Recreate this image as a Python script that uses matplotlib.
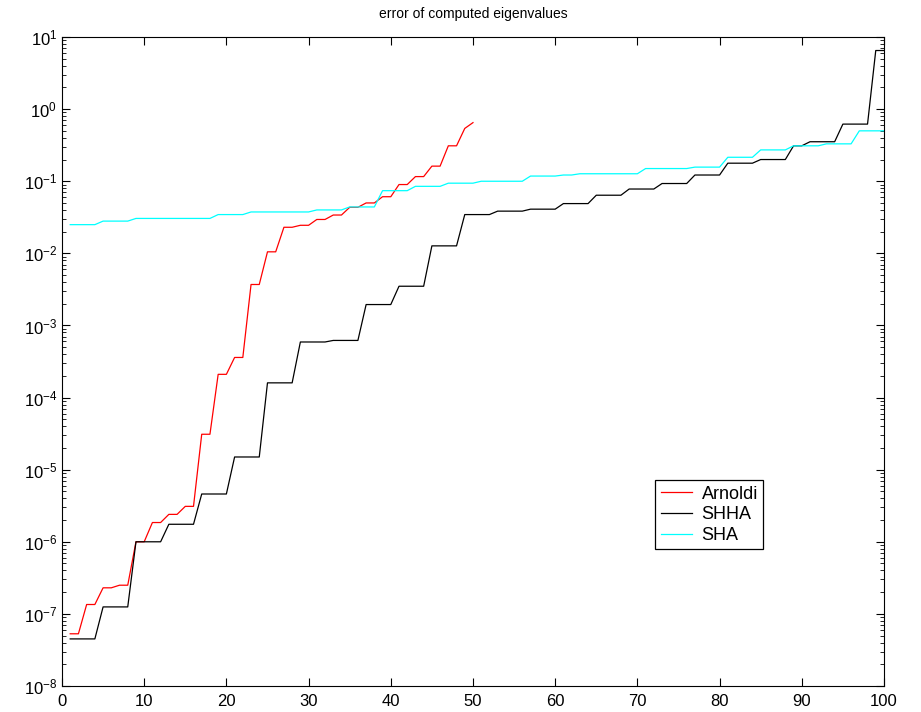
import matplotlib
matplotlib.use("Agg")
import matplotlib.pyplot as plt
import matplotlib.ticker as ticker

plt.rcParams["font.family"] = ["Liberation Sans", "DejaVu Sans"]
plt.rcParams["mathtext.default"] = "regular"

# eigenvalue index
idx_arnoldi = list(range(1, 51))
idx_full = list(range(1, 101))

err_arnoldi = [
    5.3e-8, 5.3e-8, 1.35e-7, 1.35e-7, 2.3e-7, 2.3e-7, 2.5e-7, 2.5e-7, 1.0e-6, 1.0e-6,
    1.85e-6, 1.85e-6, 2.4e-6, 2.4e-6, 3.1e-6, 3.1e-6, 3.1e-5, 3.1e-5, 2.1e-4, 2.1e-4,
    3.6e-4, 3.6e-4, 3.7e-3, 3.7e-3, 1.05e-2, 1.05e-2, 2.3e-2, 2.3e-2, 2.45e-2, 2.45e-2,
    2.95e-2, 2.95e-2, 3.4e-2, 3.4e-2, 4.35e-2, 4.35e-2, 5.0e-2, 5.0e-2, 6.1e-2, 6.1e-2,
    9.0e-2, 9.0e-2, 0.116, 0.116, 0.162, 0.162, 0.31, 0.31, 0.54, 0.65,
]

err_shha = [
    4.5e-8, 4.5e-8, 4.5e-8, 4.5e-8, 1.25e-7, 1.25e-7, 1.25e-7, 1.25e-7, 1.0e-6, 1.0e-6,
    1.0e-6, 1.0e-6, 1.75e-6, 1.75e-6, 1.75e-6, 1.75e-6, 4.6e-6, 4.6e-6, 4.6e-6, 4.6e-6,
    1.5e-5, 1.5e-5, 1.5e-5, 1.5e-5, 1.6e-4, 1.6e-4, 1.6e-4, 1.6e-4, 5.9e-4, 5.9e-4,
    5.9e-4, 5.9e-4, 6.2e-4, 6.2e-4, 6.2e-4, 6.2e-4, 1.95e-3, 1.95e-3, 1.95e-3, 1.95e-3,
    3.5e-3, 3.5e-3, 3.5e-3, 3.5e-3, 1.27e-2, 1.27e-2, 1.27e-2, 1.27e-2, 3.45e-2, 3.45e-2,
    3.45e-2, 3.45e-2, 3.85e-2, 3.85e-2, 3.85e-2, 3.85e-2, 4.1e-2, 4.1e-2, 4.1e-2, 4.1e-2,
    4.9e-2, 4.9e-2, 4.9e-2, 4.9e-2, 6.4e-2, 6.4e-2, 6.4e-2, 6.4e-2, 7.8e-2, 7.8e-2,
    7.8e-2, 7.8e-2, 9.3e-2, 9.3e-2, 9.3e-2, 9.3e-2, 0.122, 0.122, 0.122, 0.122,
    0.178, 0.178, 0.178, 0.178, 0.2, 0.2, 0.2, 0.2, 0.31, 0.31,
    0.353, 0.353, 0.353, 0.353, 0.62, 0.62, 0.62, 0.62, 6.5, 6.5,
]

err_sha = [
    2.5e-2, 2.5e-2, 2.5e-2, 2.5e-2, 2.8e-2, 2.8e-2, 2.8e-2, 2.8e-2, 3.05e-2, 3.05e-2,
    3.05e-2, 3.05e-2, 3.05e-2, 3.05e-2, 3.05e-2, 3.05e-2, 3.05e-2, 3.05e-2, 3.45e-2, 3.45e-2,
    3.45e-2, 3.45e-2, 3.75e-2, 3.75e-2, 3.75e-2, 3.75e-2, 3.75e-2, 3.75e-2, 3.75e-2, 3.75e-2,
    4.0e-2, 4.0e-2, 4.0e-2, 4.0e-2, 4.4e-2, 4.4e-2, 4.4e-2, 4.4e-2, 7.4e-2, 7.4e-2,
    7.4e-2, 7.4e-2, 8.5e-2, 8.5e-2, 8.5e-2, 8.5e-2, 9.4e-2, 9.4e-2, 9.4e-2, 9.4e-2,
    0.1, 0.1, 0.1, 0.1, 0.1, 0.1, 0.118, 0.118, 0.118, 0.118,
    0.122, 0.122, 0.127, 0.127, 0.127, 0.127, 0.127, 0.127, 0.127, 0.127,
    0.15, 0.15, 0.15, 0.15, 0.15, 0.15, 0.157, 0.157, 0.157, 0.157,
    0.215, 0.215, 0.215, 0.215, 0.272, 0.272, 0.272, 0.272, 0.31, 0.31,
    0.31, 0.31, 0.33, 0.33, 0.33, 0.33, 0.5, 0.5, 0.5, 0.5,
]

fig = plt.figure(figsize=(9.21, 7.12), dpi=100)
ax = fig.add_axes([0.0673, 0.0365, 0.8925, 0.9115])

ax.semilogy(idx_arnoldi, err_arnoldi, color="#ff0000", linewidth=0.9, label="Arnoldi")
ax.semilogy(idx_full, err_shha, color="black", linewidth=0.9, label="SHHA")
ax.semilogy(idx_full, err_sha, color="#00ffff", linewidth=0.9, label="SHA")

ax.set_xlim(0, 100)
ax.set_ylim(1e-8, 1e1)
ax.set_xticks(range(0, 101, 10))
ax.yaxis.set_major_locator(ticker.LogLocator(base=10, numticks=20))
ax.yaxis.set_minor_locator(ticker.LogLocator(base=10, subs=range(2, 10), numticks=20))
ax.yaxis.set_minor_formatter(ticker.NullFormatter())
ax.tick_params(which="both", direction="in", top=True, right=True, labelsize=12)
ax.tick_params(which="major", length=6, width=0.8)
ax.tick_params(which="minor", length=3, width=0.6)
ax.tick_params(axis="x", pad=6)
for sp in ax.spines.values():
    sp.set_linewidth(0.8)

ax.set_title("error of computed eigenvalues", fontsize=10, pad=14)

leg = ax.legend(loc="upper left", bbox_to_anchor=(0.722, 0.317), borderaxespad=0,
                fontsize=13, fancybox=False, framealpha=1, edgecolor="black",
                handlelength=1.7, handletextpad=0.55, borderpad=0.3,
                labelspacing=0.2)
leg.get_frame().set_linewidth(0.9)

fig.savefig("out.png", dpi=100)
